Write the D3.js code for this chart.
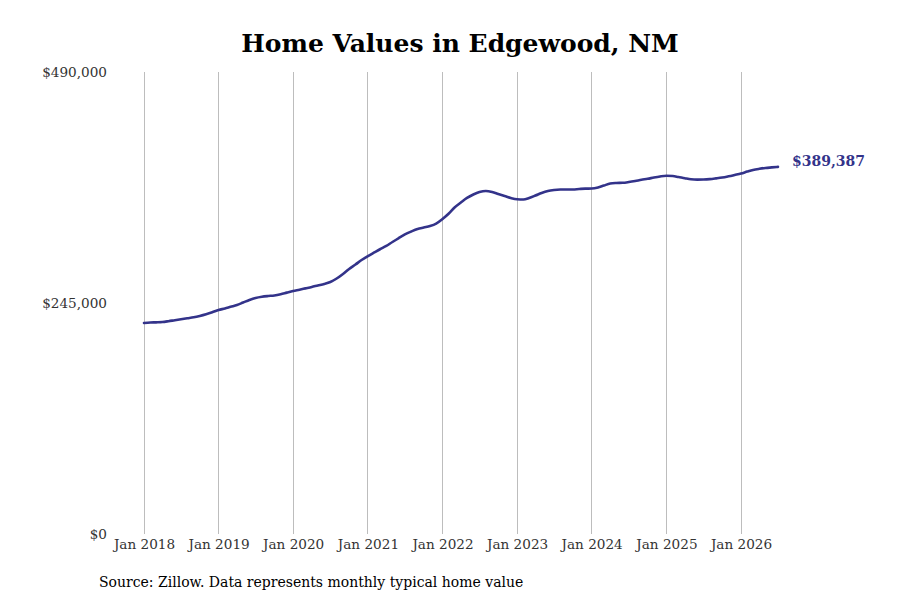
<!DOCTYPE html>
<html>
<head>
<meta charset="utf-8">
<script src="https://cdn.jsdelivr.net/npm/d3@7"></script>
<style>
  html, body { margin: 0; padding: 0; background: #fff; }
  svg { display: block; }
</style>
</head>
<body>
<svg id="chart" width="900" height="600"></svg>
<script>
const startMonth = "2018-01";
const values = [
  223800, 224300, 224500, 224800, 225700, 226800, 227800, 228800, 229800, 231200, 233000, 235100,
  237600, 239200, 241000, 242900, 245500, 248200, 250300, 251600, 252400, 253000, 254300, 256000,
  257700, 259100, 260500, 262000, 263600, 265200, 267300, 271000, 275800, 281100, 285800, 290600,
  294800, 298600, 302000, 305500, 309700, 313900, 317700, 320800, 323500, 325100, 326700, 329300,
  334100, 339900, 346300, 351600, 356400, 360100, 362700, 363800, 362700, 360600, 358500, 356400,
  355000, 354800, 356400, 359000, 361700, 363800, 364800, 365300, 365300, 365400, 365900, 366300,
  366400, 367500, 369600, 371700, 372300, 372500, 373300, 374400, 375700, 376700, 378100, 379200,
  379900, 379700, 378600, 377300, 376200, 375900, 376000, 376400, 377200, 378100, 379400, 380800,
  382300, 384400, 386100, 387300, 388200, 388800, 389387
];
const yTicks = [0, 245000, 490000];
const xTickYears = [2018, 2019, 2020, 2021, 2022, 2023, 2024, 2025, 2026];
const titleText = "Home Values in Edgewood, NM";
const sourceText = "Source: Zillow. Data represents monthly typical home value";

const parseMonth = d3.timeParse("%Y-%m");
const t0 = parseMonth(startMonth);
const data = values.map((v, i) => ({ date: d3.timeMonth.offset(t0, i), value: v }));

const svg = d3.select("#chart");
const lineColor = "#33338a";
const serif = "'DejaVu Serif', serif";

const x = d3.scaleTime()
  .domain([new Date(2018, 0, 1), new Date(2026, 0, 1)])
  .range([144, 741]);
const y = d3.scaleLinear().domain([0, 490000]).range([534, 72]);

// title
svg.append("text")
  .attr("x", 460).attr("y", 52)
  .attr("text-anchor", "middle")
  .attr("font-family", serif)
  .attr("font-weight", "bold")
  .attr("font-size", 25)
  .attr("fill", "#000")
  .text(titleText);

// vertical grid lines
const xTickDates = xTickYears.map(yr => new Date(yr, 0, 1));
svg.append("g")
  .selectAll("line")
  .data(xTickDates)
  .join("line")
  .attr("x1", d => x(d)).attr("x2", d => x(d))
  .attr("y1", y(490000)).attr("y2", y(0))
  .attr("stroke", "#bdbdbd")
  .attr("stroke-width", 1)
  .attr("shape-rendering", "crispEdges");

// x axis labels
const xAxis = d3.axisBottom(x)
  .tickValues(xTickDates)
  .tickFormat(d3.timeFormat("Jan %Y"))
  .tickSize(0)
  .tickPadding(5);
const gx = svg.append("g").attr("transform", `translate(0,${y(0)})`).call(xAxis);
gx.select(".domain").remove();
gx.selectAll("text")
  .attr("font-family", serif)
  .attr("font-size", 13.6)
  .attr("fill", "#333");

// y axis labels
const yAxis = d3.axisLeft(y)
  .tickValues(yTicks)
  .tickFormat(d => "$" + d3.format(",")(d))
  .tickSize(0)
  .tickPadding(0);
const gy = svg.append("g").attr("transform", "translate(107,0)").call(yAxis);
gy.select(".domain").remove();
gy.selectAll("text")
  .attr("font-family", serif)
  .attr("font-size", 13.6)
  .attr("fill", "#333");

// line
const line = d3.line()
  .x(d => x(d.date))
  .y(d => y(d.value))
  .curve(d3.curveMonotoneX);
svg.append("path")
  .datum(data)
  .attr("d", line)
  .attr("fill", "none")
  .attr("stroke", lineColor)
  .attr("stroke-width", 2.6)
  .attr("stroke-linejoin", "round")
  .attr("stroke-linecap", "round");

// end label
const last = data[data.length - 1];
svg.append("text")
  .attr("x", x(last.date) + 14)
  .attr("y", y(last.value))
  .attr("dy", "-0.05em")
  .attr("font-family", serif)
  .attr("font-weight", "bold")
  .attr("font-size", 14)
  .attr("fill", lineColor)
  .text("$" + d3.format(",")(last.value));

// source
svg.append("text")
  .attr("x", 99).attr("y", 587)
  .attr("font-family", serif)
  .attr("font-size", 14)
  .attr("fill", "#000")
  .text(sourceText);
</script>
</body>
</html>
